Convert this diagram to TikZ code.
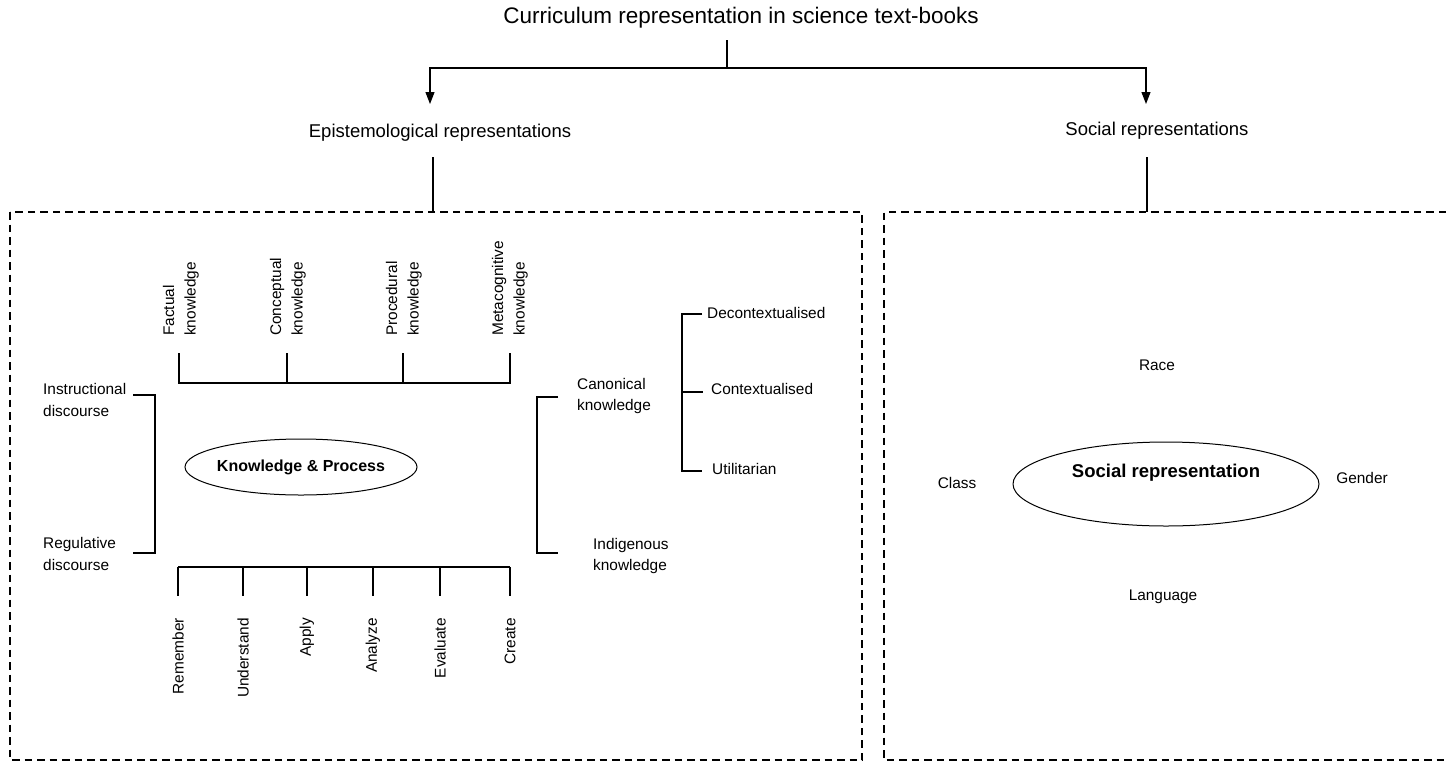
\documentclass[tikz,border=0pt]{standalone}
\usepackage{fontspec}
\setmainfont{Liberation Sans}
\usetikzlibrary{shapes.geometric,arrows.meta,positioning}
\tikzset{
  lbl/.style={font=\fontsize{15.4}{21.5}\selectfont, align=left, inner sep=0pt},
  head/.style={font=\fontsize{18.5}{22}\selectfont, inner sep=0pt},
  bold/.style={font=\bfseries\fontsize{18.5}{22}\selectfont, inner sep=0pt},
  oval/.style={draw, ellipse, line width=1pt, inner sep=0pt},
  link/.style={line width=1.1pt},
  arr/.style={link, -{Triangle[length=12pt,width=9pt]}},
  zone/.style={line width=1.2pt, dash pattern=on 7.5pt off 5pt},
}
\begin{document}
\begin{tikzpicture}[x=1pt,y=-1pt]
    \useasboundingbox (0,0) rectangle (1446,761);
    % top of the tree
    \node[head, font=\fontsize{22.5}{24}\selectfont] (title) at (741,18) {Curriculum representation in science text-books};
    \node[head] (epi) at (440,133) {Epistemological representations};
    \node[head] (soc) at (1157,131) {Social representations};
    \coordinate (drop) at (727,40);
    \coordinate (split) at (727,68);
    \coordinate (epitip) at (430,104);
    \coordinate (soctip) at (1146,104);
    \draw[link] (drop) -- (split);
    \draw[arr] (split) -| (epitip);
    \draw[arr] (split) -| (soctip);
    \draw[link] (433,157) -- (433,212);
    \draw[link] (1147,157) -- (1147,212);

    % the two boxes
    \draw[zone] (10,212) rectangle (862,760);
    \draw[zone] (1446,212) -- (884,212) -- (884,760) -- (1446,760);

    % knowledge & process
    \node[oval, minimum width=232pt, minimum height=56pt] (kp) at (301,467) {};
    \node[bold, font=\bfseries\fontsize{16}{18}\selectfont] at (kp) {Knowledge \& Process};

    % knowledge types
    \foreach \x/\name/\txt in {181/fact/{Factual\\knowledge}, 288/conc/{Conceptual\\knowledge},
                               404/proc/{Procedural\\knowledge}, 510/meta/{Metacognitive\\knowledge}} {
        \node[lbl, rotate=90, anchor=west] (\name) at (\x,336) {\txt};
    }
    \draw[link] (179,353) -- (179,383) -- (510,383) -- (510,353);
    \draw[link] (287,353) -- (287,383);
    \draw[link] (403,353) -- (403,383);

    % cognitive processes
    \foreach \x/\name/\txt in {178/rem/Remember, 243/und/Understand, 307/app/Apply,
                               373/ana/Analyze, 440/eva/Evaluate, 510/cre/Create} {
        \node[lbl, rotate=90, anchor=east] (\name) at (\x,618) {\txt};
        \draw[link] (\x,567) -- (\x,596);
    }
    \draw[link] (178,567) -- (510,567);

    % discourse
    \node[lbl, anchor=west] (instr) at (43,400) {Instructional\\discourse};
    \node[lbl, anchor=west] (regul) at (43,554) {Regulative\\discourse};
    \draw[link] (133,395) -| (155,553) -- (133,553);

    % canonical and indigenous
    \node[lbl, anchor=west] (canon) at (577,396) {Canonical\\knowledge};
    \node[lbl, anchor=west] (indig) at (593,556) {Indigenous\\knowledge};
    \draw[link] (558,397) -| (537,553) -- (558,553);

    \node[lbl, anchor=west] (decon) at (707,313) {Decontextualised};
    \node[lbl, anchor=west] (conte) at (711,389) {Contextualised};
    \node[lbl, anchor=west] (util) at (712,469) {Utilitarian};
    \draw[link] (702,314) -| (682,471) -- (702,471);
    \draw[link] (682,392) -- (703,392);

    % social representation
    \node[oval, minimum width=306pt, minimum height=84pt] (sr) at (1166,484) {};
    \node[bold, yshift=11pt] at (sr) {Social representation};
    \node[lbl] (race) at (1157,365) {Race};
    \node[lbl] (class) at (957,483) {Class};
    \node[lbl] (gender) at (1362,478) {Gender};
    \node[lbl] (lang) at (1163,597) {Language};
\end{tikzpicture}
\end{document}
